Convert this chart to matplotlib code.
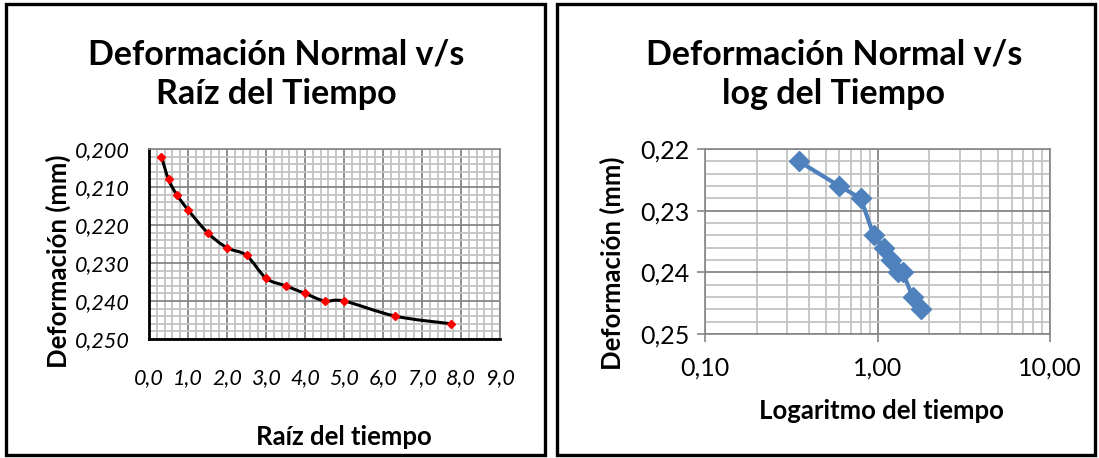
import matplotlib
matplotlib.use("Agg")
import matplotlib.pyplot as plt
import numpy as np
from matplotlib.path import Path
from matplotlib.patches import PathPatch, Rectangle
from matplotlib.ticker import MultipleLocator, FixedLocator, FuncFormatter, LogLocator, NullFormatter

plt.rcParams['font.family'] = ['Lato', 'DejaVu Sans']

# ---- data ----
raiz_tiempo = [0.32, 0.50, 0.71, 1.00, 1.50, 2.00, 2.50, 3.00, 3.50, 4.00, 4.50, 5.00, 6.32, 7.75]
deform_raiz = [0.202, 0.208, 0.212, 0.216, 0.222, 0.226, 0.228, 0.234, 0.236, 0.238, 0.240, 0.240, 0.244, 0.246]

log_tiempo = [0.35, 0.60, 0.80, 0.95, 1.09, 1.20, 1.31, 1.40, 1.60, 1.78]
deform_log = [0.222, 0.226, 0.228, 0.234, 0.236, 0.238, 0.240, 0.240, 0.244, 0.246]

title_left = "Deformación Normal v/s\nRaíz del Tiempo"
title_right = "Deformación Normal v/s\nlog del Tiempo"
ylabel = "Deformación (mm)"
xlabel_left = "Raíz del tiempo"
xlabel_right = "Logaritmo del tiempo"

W, H = 1099, 458
fig = plt.figure(figsize=(W / 100, H / 100), dpi=100)

def fx(px):
    return px / W

def fy(py):
    return 1 - py / H

# panel borders
for x0, x1 in [(6, 545), (557, 1095)]:
    fig.add_artist(Rectangle((fx(x0), fy(455)), fx(x1) - fx(x0), fy(4) - fy(455),
                             transform=fig.transFigure, fill=False, ec='black', lw=2.4))

comma = lambda fmt: FuncFormatter(lambda v, p: (fmt % v).replace('.', ','))

MAJ = '#868686'
MIN = '#c4c4c4'

# ---- left chart ----
axL = fig.add_axes([fx(149), fy(339), fx(500) - fx(149), fy(149) - fy(339)])
axL.set_xlim(0, 9)
axL.set_ylim(0.25, 0.2)
axL.xaxis.set_major_locator(MultipleLocator(1))
axL.xaxis.set_minor_locator(MultipleLocator(0.2))
axL.yaxis.set_major_locator(MultipleLocator(0.01))
axL.yaxis.set_minor_locator(MultipleLocator(0.002))
axL.xaxis.set_major_formatter(comma('%.1f'))
axL.yaxis.set_major_formatter(comma('%.3f'))
axL.grid(which='minor', color=MIN, lw=1.3)
axL.grid(which='major', color=MAJ, lw=1.3)
axL.set_axisbelow(True)
axL.tick_params(which='both', length=0)
axL.tick_params(axis='y', pad=14, labelsize=15.5)
axL.tick_params(axis='x', pad=21, labelsize=15.5)
for lab in axL.get_xticklabels() + axL.get_yticklabels():
    lab.set_fontstyle('italic')
for s in ['left', 'bottom']:
    axL.spines[s].set_color('black')
    axL.spines[s].set_linewidth(2.0)
for s in ['top', 'right']:
    axL.spines[s].set_color(MAJ)
    axL.spines[s].set_linewidth(1.2)

# smoothed line (Catmull-Rom through data points)
P = np.column_stack([raiz_tiempo, deform_raiz])
verts = [P[0]]
codes = [Path.MOVETO]
for i in range(len(P) - 1):
    p0 = P[i - 1] if i > 0 else P[i]
    p1 = P[i]
    p2 = P[i + 1]
    p3 = P[i + 2] if i + 2 < len(P) else P[i + 1]
    c1 = p1 + (p2 - p0) / 6
    c2 = p2 - (p3 - p1) / 6
    verts += [c1, c2, p2]
    codes += [Path.CURVE4] * 3
axL.add_patch(PathPatch(Path(verts, codes), fill=False, ec='black', lw=2.2, zorder=3))
axL.plot(raiz_tiempo, deform_raiz, ls='none', marker='D', ms=4.2, color='#ff0000', zorder=4)

fig.text(fx(276), fy(74), title_left, ha='center', va='center', fontsize=24.5,
         fontweight='bold', linespacing=1.3)
fig.text(fx(58), fy(261), ylabel, rotation=90, ha='center', va='center',
         fontsize=18.5, fontweight='bold')
fig.text(fx(344), fy(437), xlabel_left, ha='center', va='center',
         fontsize=18.5, fontweight='bold')

# ---- right chart ----
axR = fig.add_axes([fx(705), fy(334), fx(1050) - fx(705), fy(149) - fy(334)])
axR.set_xscale('log')
axR.set_xlim(0.1, 10)
axR.set_ylim(0.25, 0.22)
axR.xaxis.set_major_locator(FixedLocator([0.1, 1, 10]))
axR.xaxis.set_minor_locator(LogLocator(base=10, subs=np.arange(2, 10)))
axR.xaxis.set_minor_formatter(NullFormatter())
axR.xaxis.set_major_formatter(comma('%.2f'))
axR.yaxis.set_major_locator(MultipleLocator(0.01))
axR.yaxis.set_minor_locator(MultipleLocator(0.002))
axR.yaxis.set_major_formatter(comma('%.2f'))
axR.grid(which='minor', color=MIN, lw=1.3)
axR.grid(which='major', color=MAJ, lw=1.3)
axR.set_axisbelow(True)
axR.tick_params(which='major', length=6, width=1.2, color=MAJ, labelsize=18, pad=5)
axR.tick_params(axis='x', pad=10)
axR.tick_params(which='minor', length=0)
for s in axR.spines.values():
    s.set_color(MAJ)
    s.set_linewidth(1.2)
axR.plot(log_tiempo, deform_log, color='#4f81bd', lw=3.0, marker='D', ms=10.5,
         zorder=3)

fig.text(fx(834), fy(74), title_right, ha='center', va='center', fontsize=24.5,
         fontweight='bold', linespacing=1.3)
fig.text(fx(612), fy(263), ylabel, rotation=90, ha='center', va='center',
         fontsize=18.5, fontweight='bold')
fig.text(fx(881), fy(411), xlabel_right, ha='center', va='center',
         fontsize=18.5, fontweight='bold')

fig.savefig('out.png', dpi=100)
